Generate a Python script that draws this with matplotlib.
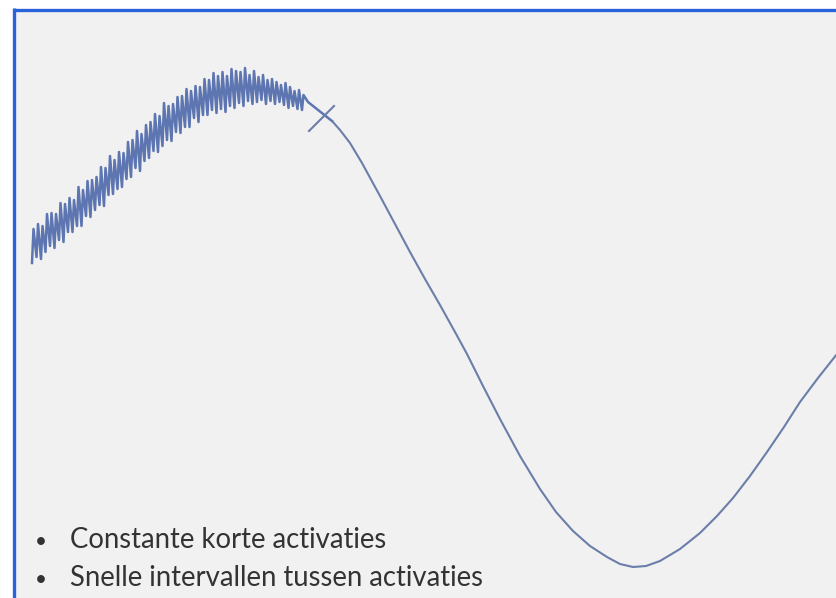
import matplotlib
matplotlib.use("Agg")
import matplotlib.pyplot as plt
from matplotlib.patches import Rectangle

# ---- data (pixel-like units: x right, y down) ----
spike_x = [32, 36.5, 41, 45.5, 50, 54.5, 59, 63.5, 68, 72.5, 77, 81.5, 86, 90.5, 95,
           99.5, 104, 108.5, 113, 117.5, 122, 126.5, 131, 135.5, 140, 144.5, 149, 153.5,
           158, 162.5, 167, 171.5, 176, 180.5, 185, 189.5, 194, 198.5, 203, 207.5, 212,
           216.5, 221, 225.5, 230, 234.5, 239, 243.5, 248, 252.5, 257, 261.5, 266, 270.5,
           275, 279.5, 284, 288.5, 293, 297.5, 302]
spike_top = [229, 224, 226, 214, 213, 214, 203, 204, 198, 200, 187, 190, 181, 180, 177,
             167, 168, 156, 160, 152, 153, 142, 140, 131, 134, 125, 122, 114, 116, 103,
             106, 104, 97, 96, 89, 91, 86, 87, 79, 80, 73, 76, 72, 76, 69, 71, 72, 68, 75,
             71, 77, 75, 80, 79, 82, 85, 83, 87, 91, 90, 95]
spike_bot = [263, 257, 259, 252, 246, 248, 240, 242, 232, 232, 226, 226, 216, 217, 210,
             205, 206, 195, 194, 189, 187, 179, 177, 168, 171, 161, 158, 151, 152, 146,
             140, 141, 132, 133, 127, 127, 118, 122, 115, 115, 110, 113, 109, 112, 106,
             108, 103, 106, 101, 104, 102, 100, 104, 101, 104, 102, 105, 108, 106, 109, 110]
cross_a_x = [308, 332]
cross_a_y = [102, 121]
cross_b_x = [309, 334]
cross_b_y = [131, 106]
smooth_x = [332, 340, 350, 362, 380, 395, 410, 425, 440, 455, 467, 483, 500, 520, 540,
            556, 573, 590, 607, 620, 633, 646, 660, 680, 700, 717, 733, 750, 767, 784,
            800, 818, 837]
smooth_y = [121, 130, 143, 163, 196, 224, 252, 279, 305, 332, 354, 386, 419, 456, 489,
            512, 531, 546, 557, 564, 567, 566, 561, 549, 533, 516, 498, 476, 452, 427,
            402, 378, 354]
bullets = ["Constante korte activaties", "Snelle intervallen tussen activaties"]

# ---- figure ----
W, H = 837, 598
fig = plt.figure(figsize=(W / 100, H / 100), dpi=100)
ax = fig.add_axes([0, 0, 1, 1])
ax.set_xlim(0, W)
ax.set_ylim(H, 0)
ax.axis("off")
fig.patch.set_facecolor("white")

ax.add_patch(Rectangle((14, 9), W - 14, H - 9, facecolor="#f1f1f1", edgecolor="none", zorder=0))
ax.plot([13, W], [9.5, 9.5], color="#2a63d9", lw=2.4, solid_capstyle="butt", zorder=1)
ax.plot([14.5, 14.5], [8.3, H], color="#2a63d9", lw=2.4, solid_capstyle="butt", zorder=1)

px, py = [], []
for x, t, b in zip(spike_x, spike_top, spike_bot):
    px += [x, x + 1.5]
    py += [b, t]
px += cross_a_x
py += cross_a_y
jit_kw = dict(color="#4d68aa", lw=1.8, alpha=0.9, solid_joinstyle="round", zorder=2)
ax.plot(px, py, **jit_kw)
ax.plot(cross_b_x, cross_b_y, color="#6b7ea9", lw=1.5, zorder=2)
ax.plot(smooth_x, smooth_y, color="#6b7ea9", lw=1.5, solid_joinstyle="round",
        solid_capstyle="round", zorder=2)

for i, s in enumerate(bullets):
    yb = 548 + i * 38
    ax.text(35, yb, "\u2022", fontsize=15, color="#333333", family="Lato", va="baseline")
    ax.text(70, yb, s, fontsize=19.8, color="#333333", family="Lato", va="baseline")

fig.savefig("out.png", dpi=100, facecolor="white")
